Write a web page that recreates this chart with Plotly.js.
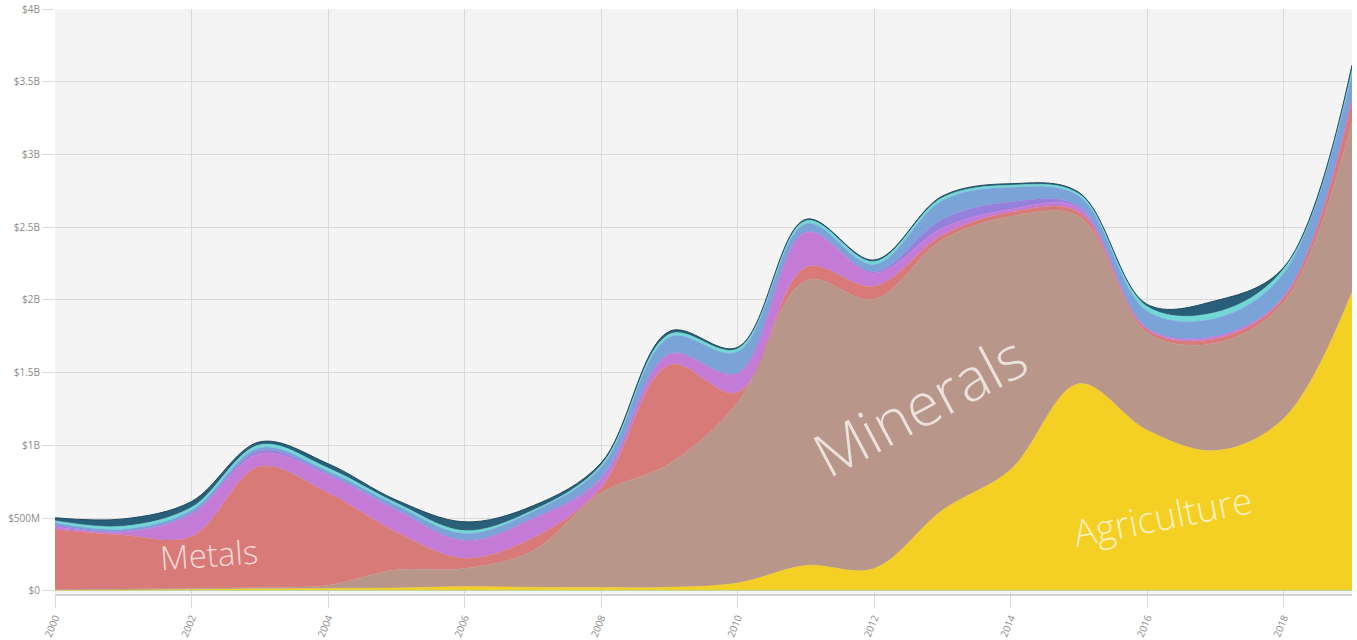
<!DOCTYPE html>
<html>
<head>
<meta charset="utf-8">
<script src="https://cdn.plot.ly/plotly-3.0.1.min.js"></script>
<style>html,body{margin:0;padding:0;background:#fff;}#chart{width:1357px;height:640px;}</style>
</head>
<body>
<div id="chart"></div>
<script>
// Years
const years = [2000,2001,2002,2003,2004,2005,2006,2007,2008,2009,2010,2011,2012,2013,2014,2015,2016,2017,2018,2019];

// Individual series values (USD), bottom to top of the stack
const other       = [4e6,4e6,4e6,4e6,4e6,4e6,4e6,4e6,4e6,4e6,4e6,4e6,4e6,4e6,4e6,4e6,4e6,4e6,4e6,4e6];
const agriculture = [1e6,2e6,5e6,10e6,12e6,15e6,25e6,20e6,18e6,20e6,50e6,170e6,150e6,550e6,830e6,1420e6,1100e6,960e6,1180e6,2050e6];
const minerals    = [3e6,6e6,7e6,10e6,23e6,125e6,125e6,250e6,652e6,850e6,1240e6,1960e6,1850e6,1860e6,1740e6,1150e6,670e6,740e6,800e6,1170e6];
const metals      = [414e6,372e6,358e6,830e6,635e6,260e6,70e6,90e6,35e6,680e6,70e6,90e6,90e6,30e6,30e6,30e6,20e6,30e6,30e6,140e6];
const chemicals   = [20e6,20e6,150e6,90e6,120e6,150e6,120e6,130e6,60e6,70e6,130e6,240e6,90e6,50e6,20e6,30e6,10e6,15e6,10e6,20e6];
const stone       = [10e6,5e6,10e6,20e6,10e6,5e6,5e6,5e6,5e6,5e6,5e6,5e6,10e6,60e6,50e6,10e6,5e6,5e6,5e6,10e6];
const machinery   = [15e6,15e6,20e6,20e6,20e6,30e6,45e6,45e6,75e6,115e6,145e6,55e6,50e6,130e6,100e6,70e6,115e6,120e6,155e6,160e6];
const transport   = [15e6,20e6,20e6,20e6,20e6,15e6,20e6,10e6,15e6,20e6,20e6,20e6,20e6,20e6,15e6,15e6,30e6,40e6,30e6,30e6];
const textiles    = [20e6,50e6,40e6,20e6,30e6,20e6,60e6,30e6,15e6,20e6,10e6,10e6,10e6,10e6,10e6,10e6,15e6,80e6,10e6,30e6];

const seriesNames  = ['Other','Agriculture','Minerals','Metals','Chemicals','Stone','Machinery','Transportation','Textiles'];
const seriesValues = [other, agriculture, minerals, metals, chemicals, stone, machinery, transport, textiles];
const seriesColors = ['#9fd8a6','#f4cf24','#b8978a','#d87a78','#c47bd8','#9580dc','#7aa3d8','#72d8d6','#2a5f79'];

const yTickVals = [0,0.5e9,1e9,1.5e9,2e9,2.5e9,3e9,3.5e9,4e9];
const yTickText = ['$0','$500M','$1B','$1.5B','$2B','$2.5B','$3B','$3.5B','$4B'];
const xTickVals = [2000,2002,2004,2006,2008,2010,2012,2014,2016,2018];

const traces = seriesNames.map((name, i) => ({
  type: 'scatter',
  mode: 'lines',
  name: name,
  x: years,
  y: seriesValues[i],
  stackgroup: 'one',
  fill: 'tonexty',
  fillcolor: seriesColors[i],
  line: {shape: 'spline', smoothing: 1, color: i === seriesNames.length - 1 ? '#1f4a60' : seriesColors[i], width: i === seriesNames.length - 1 ? 1 : 0.5},
  hoverinfo: 'x+y+name'
}));

const labelFont = {family: 'Open Sans, Lato, sans-serif', weight: 300, color: 'rgba(255,255,255,0.72)'};

const layout = {
  width: 1357,
  height: 640,
  margin: {l: 55, r: 5, t: 9, b: 46},
  paper_bgcolor: '#ffffff',
  plot_bgcolor: '#f4f4f4',
  showlegend: false,
  xaxis: {
    range: [2000, 2019],
    tickvals: xTickVals,
    ticktext: xTickVals.map(String),
    tickangle: -68,
    tickfont: {family: 'Open Sans, sans-serif', size: 10, color: '#8a8a8a'},
    showgrid: true,
    gridcolor: '#dadada',
    gridwidth: 1,
    ticks: 'outside',
    ticklen: 12,
    tickcolor: '#dadada',
    showline: true,
    linecolor: '#d2d2d2',
    linewidth: 2,
    zeroline: false
  },
  yaxis: {
    range: [-0.022e9, 4e9],
    tickvals: yTickVals,
    ticktext: yTickText,
    tickfont: {family: 'Open Sans, sans-serif', size: 10, color: '#8a8a8a'},
    showgrid: true,
    gridcolor: '#dadada',
    gridwidth: 1,
    ticks: 'outside',
    ticklen: 12,
    tickcolor: '#dadada',
    zeroline: false,
    showline: false
  },
  annotations: [
    {x: 2002.25, y: 0.25e9, xref: 'x', yref: 'y', text: 'Metals', showarrow: false, textangle: -4,
     font: Object.assign({size: 33}, labelFont)},
    {x: 2012.65, y: 1.28e9, xref: 'x', yref: 'y', text: 'Minerals', showarrow: false, textangle: -28,
     font: Object.assign({size: 60}, labelFont)},
    {x: 2016.23, y: 0.52e9, xref: 'x', yref: 'y', text: 'Agriculture', showarrow: false, textangle: -11,
     font: Object.assign({size: 37}, labelFont)}
  ]
};

Plotly.newPlot('chart', traces, layout, {displayModeBar: false, staticPlot: true});
</script>
</body>
</html>
